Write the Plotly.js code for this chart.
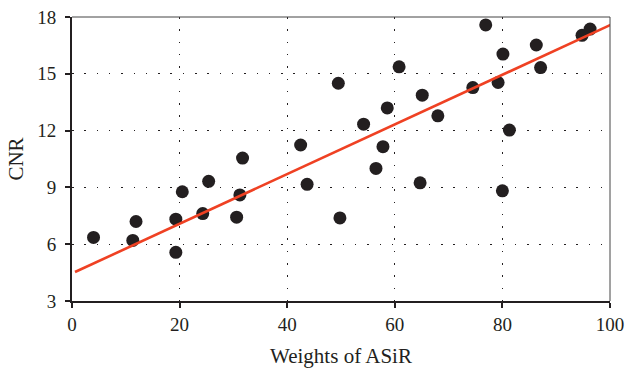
<!DOCTYPE html>
<html><head><meta charset="utf-8">
<script src="https://cdn.plot.ly/plotly-3.0.1.min.js"></script>
<style>html,body{margin:0;padding:0;background:#fff}#c{width:635px;height:368px}</style>
</head><body><div id="c"></div>
<script>
const weights = [4.0, 11.3, 11.9, 19.3, 19.3, 20.5, 24.3, 25.4, 30.6, 31.2, 31.7, 42.5, 43.7, 49.5, 49.8, 54.2, 56.5, 57.8, 58.6, 60.8, 64.7, 65.1, 68.0, 74.5, 76.9, 79.2, 80.0, 80.1, 81.3, 86.3, 87.1, 94.8, 96.3];
const cnr = [6.36, 6.2, 7.2, 7.32, 5.57, 8.77, 7.62, 9.32, 7.43, 8.6, 10.55, 11.24, 9.16, 14.5, 7.39, 12.34, 10.0, 11.15, 13.2, 15.37, 9.24, 13.87, 12.78, 14.27, 17.58, 14.54, 8.82, 16.04, 12.03, 16.52, 15.33, 17.03, 17.36];
const fitX = [0.56, 100.6];
const fitY = [4.53, 17.65];
const xTicks = [0, 20, 40, 60, 80, 100];
const yTicks = [3, 6, 9, 12, 15, 18];

const dark = '#231f20';
const font = '"Liberation Serif", "DejaVu Serif", "Times New Roman", serif';

const traces = [
  {x: weights, y: cnr, type: 'scatter', mode: 'markers',
   marker: {color: dark, size: 13}, cliponaxis: false, hoverinfo: 'skip'},
  {x: fitX, y: fitY, type: 'scatter', mode: 'lines',
   line: {color: '#ef4123', width: 2.6}, cliponaxis: false, hoverinfo: 'skip'}
];

const layout = {
  width: 635, height: 368,
  margin: {l: 72, r: 25, t: 17, b: 67},
  paper_bgcolor: '#fff', plot_bgcolor: '#fff',
  showlegend: false,
  font: {family: font, color: dark, size: 19},
  xaxis: {
    range: [0, 100], tickvals: xTicks, ticktext: xTicks.map(String),
    showgrid: true, gridcolor: dark, gridwidth: 1, griddash: '1.5px,10.8px',
    zeroline: false, showline: true, linecolor: dark, linewidth: 2,
    ticks: 'outside', ticklen: 5, tickwidth: 2, tickcolor: dark,
    tickfont: {family: font, size: 19, color: dark},
    title: {text: 'Weights of ASiR', font: {family: font, size: 21, color: dark}, standoff: 15}
  },
  yaxis: {
    range: [3, 18], tickvals: yTicks, ticktext: yTicks.map(String),
    showgrid: true, gridcolor: dark, gridwidth: 1, griddash: '1.5px,10.8px',
    zeroline: false, showline: true, linecolor: dark, linewidth: 2,
    ticks: 'outside', ticklen: 5, tickwidth: 2, tickcolor: dark,
    tickfont: {family: font, size: 19, color: dark},
    ticklabelstandoff: 5,
    title: {text: 'CNR', font: {family: font, size: 21, color: dark}, standoff: 8}
  },
  shapes: [
    {type: 'line', xref: 'paper', yref: 'paper', x0: 0, x1: 1, y0: 1, y1: 1, line: {color: '#444', width: 1}},
    {type: 'line', xref: 'paper', yref: 'paper', x0: 1, x1: 1, y0: 0, y1: 1, line: {color: '#444', width: 1}}
  ]
};

Plotly.newPlot('c', traces, layout, {displayModeBar: false, staticPlot: true});
</script></body></html>
